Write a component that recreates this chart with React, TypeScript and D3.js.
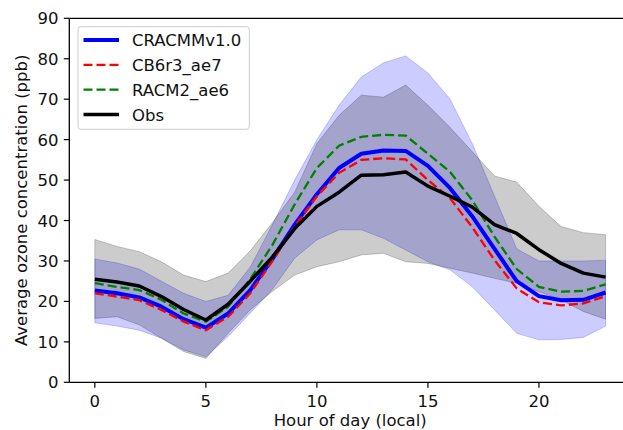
import React from "react";
import * as d3 from "d3";

const hours = [0, 1, 2, 3, 4, 5, 6, 7, 8, 9, 10, 11, 12, 13, 14, 15, 16, 17, 18, 19, 20, 21, 22, 23];

const obs = [25.5, 24.8, 23.8, 21.2, 18.0, 15.4, 19.3, 25.0, 31.0, 38.0, 43.5, 47.0, 51.2, 51.3, 52.0, 48.5, 46.0, 43.3, 39.0, 36.8, 32.8, 29.4, 27.0, 26.0];
const obsHi = [35.3, 33.6, 32.3, 29.8, 26.5, 24.9, 27.0, 32.5, 39.5, 47.0, 59.0, 66.0, 71.0, 70.5, 73.5, 68.5, 63.0, 57.0, 51.0, 49.5, 43.5, 38.5, 37.0, 36.5];
const obsLo = [15.8, 16.2, 14.2, 10.9, 7.6, 5.9, 12.1, 17.9, 22.5, 26.5, 28.6, 29.8, 31.5, 31.9, 29.8, 29.4, 28.2, 27.0, 25.7, 24.5, 22.4, 20.4, 17.5, 15.6];

const cracmm = [22.7, 22.0, 21.0, 18.7, 15.6, 13.5, 17.0, 22.8, 30.5, 39.0, 46.5, 53.0, 56.5, 57.3, 57.2, 53.5, 48.0, 41.0, 33.0, 25.0, 21.3, 20.3, 20.4, 22.2];
const cracmmHi = [30.5, 29.5, 28.0, 25.0, 22.0, 20.0, 21.5, 28.5, 39.0, 50.0, 60.0, 68.5, 75.5, 79.0, 80.7, 76.5, 70.0, 59.0, 46.0, 33.0, 30.0, 30.0, 30.0, 30.2];
const cracmmLo = [14.7, 13.9, 12.9, 10.9, 8.0, 6.3, 11.3, 17.1, 23.0, 30.7, 35.2, 37.7, 37.7, 35.6, 32.7, 29.8, 27.8, 23.6, 17.9, 12.1, 10.5, 10.6, 11.1, 13.9];

const cb6 = [22.0, 21.2, 20.3, 17.9, 15.0, 12.9, 16.2, 22.0, 30.0, 38.5, 46.0, 51.8, 55.0, 55.4, 55.1, 50.0, 45.5, 38.3, 30.2, 23.2, 19.8, 19.0, 19.5, 21.3];
const racm2 = [24.5, 23.6, 22.8, 20.4, 17.0, 15.0, 18.7, 25.5, 34.0, 44.0, 53.0, 58.5, 60.7, 61.2, 61.0, 56.5, 52.0, 45.0, 36.0, 28.0, 23.6, 22.4, 22.6, 24.2];

const xTicks = [0, 5, 10, 15, 20];
const yTicks = [0, 10, 20, 30, 40, 50, 60, 70, 80, 90];

const legendItems = [
  { label: "CRACMMv1.0", color: "#0000ff", width: 4, dash: null },
  { label: "CB6r3_ae7", color: "#ff0000", width: 2.3, dash: "9 4" },
  { label: "RACM2_ae6", color: "#008000", width: 2.3, dash: "9 4" },
  { label: "Obs", color: "#000000", width: 3.5, dash: null },
];

const FONT = "DejaVu Sans, sans-serif";

export default function App() {
  const W = 623;
  const H = 430;
  const x = d3.scaleLinear().domain([-1.15, 24.15]).range([69.3, 631.1]);
  const y = d3.scaleLinear().domain([0, 90]).range([382.3, 18.3]);

  const line = (vals: number[]) =>
    d3.line<number>().x((_, i) => x(hours[i])).y((d) => y(d))(vals) as string;
  const area = (lo: number[], hi: number[]) =>
    d3
      .area<number>()
      .x((_, i) => x(hours[i]))
      .y0((_, i) => y(lo[i]))
      .y1((_, i) => y(hi[i]))(hours) as string;

  const left = 69.3;
  const right = 631.1;
  const top = 18.3;
  const bottom = 382.3;

  return (
    <svg
      width={W}
      height={H}
      style={{ position: "absolute", left: 0, top: 0, background: "#fff" }}
      fontFamily={FONT}
    >
      <rect x={0} y={0} width={W} height={H} fill="#fff" />
      {/* bands */}
      <path d={area(cracmmLo, cracmmHi)} fill="#0000ff" fillOpacity={0.2} stroke="#0000ff" strokeOpacity={0.2} strokeWidth={1} />
      <path d={area(obsLo, obsHi)} fill="#000000" fillOpacity={0.2} stroke="#000000" strokeOpacity={0.2} strokeWidth={1} />

      {/* lines */}
      <path d={line(cracmm)} fill="none" stroke="#0000ff" strokeWidth={4} strokeLinejoin="round" />
      <path d={line(cb6)} fill="none" stroke="#ff0000" strokeWidth={2.3} strokeDasharray="9 4" />
      <path d={line(racm2)} fill="none" stroke="#008000" strokeWidth={2.3} strokeDasharray="9 4" />
      <path d={line(obs)} fill="none" stroke="#000000" strokeWidth={3.5} strokeLinejoin="round" />

      {/* spines */}
      <line x1={left} x2={left} y1={top} y2={bottom} stroke="#000" strokeWidth={1.3} />
      <line x1={left} x2={right} y1={bottom} y2={bottom} stroke="#000" strokeWidth={1.3} />
      <line x1={left} x2={right} y1={top} y2={top} stroke="#000" strokeWidth={1.3} />
      <line x1={right} x2={right} y1={top} y2={bottom} stroke="#000" strokeWidth={1.3} />

      {/* x ticks */}
      {xTicks.map((t) => (
        <g key={"x" + t}>
          <line x1={x(t)} x2={x(t)} y1={bottom} y2={bottom + 5.5} stroke="#000" strokeWidth={1.2} />
          <text x={x(t)} y={407} textAnchor="middle" fontSize={16.5} fill="#111">
            {t}
          </text>
        </g>
      ))}
      {/* y ticks */}
      {yTicks.map((t) => (
        <g key={"y" + t}>
          <line x1={left - 5.5} x2={left} y1={y(t)} y2={y(t)} stroke="#000" strokeWidth={1.2} />
          <text x={58.5} y={y(t) + 6} textAnchor="end" fontSize={16.5} fill="#111">
            {t}
          </text>
        </g>
      ))}

      {/* axis labels */}
      <text x={350.2} y={426} textAnchor="middle" fontSize={16.5} fill="#111">
        Hour of day (local)
      </text>
      <text
        transform={`translate(27,200.3) rotate(-90)`}
        textAnchor="middle"
        fontSize={16.5}
        fill="#111"
      >
        Average ozone concentration (ppb)
      </text>

      {/* legend */}
      <rect x={78} y={26.7} width={171.3} height={102.6} rx={3} ry={3} fill="#fff" fillOpacity={0.8} stroke="#cccccc" strokeWidth={1} />
      {legendItems.map((it, i) => {
        const cy = 40 + i * 24.8;
        return (
          <g key={it.label}>
            <line
              x1={83.5}
              x2={119}
              y1={cy}
              y2={cy}
              stroke={it.color}
              strokeWidth={it.width}
              strokeDasharray={it.dash ?? undefined}
            />
            <text x={132} y={cy + 6.3} fontSize={16.5} fill="#111">
              {it.label}
            </text>
          </g>
        );
      })}
    </svg>
  );
}
